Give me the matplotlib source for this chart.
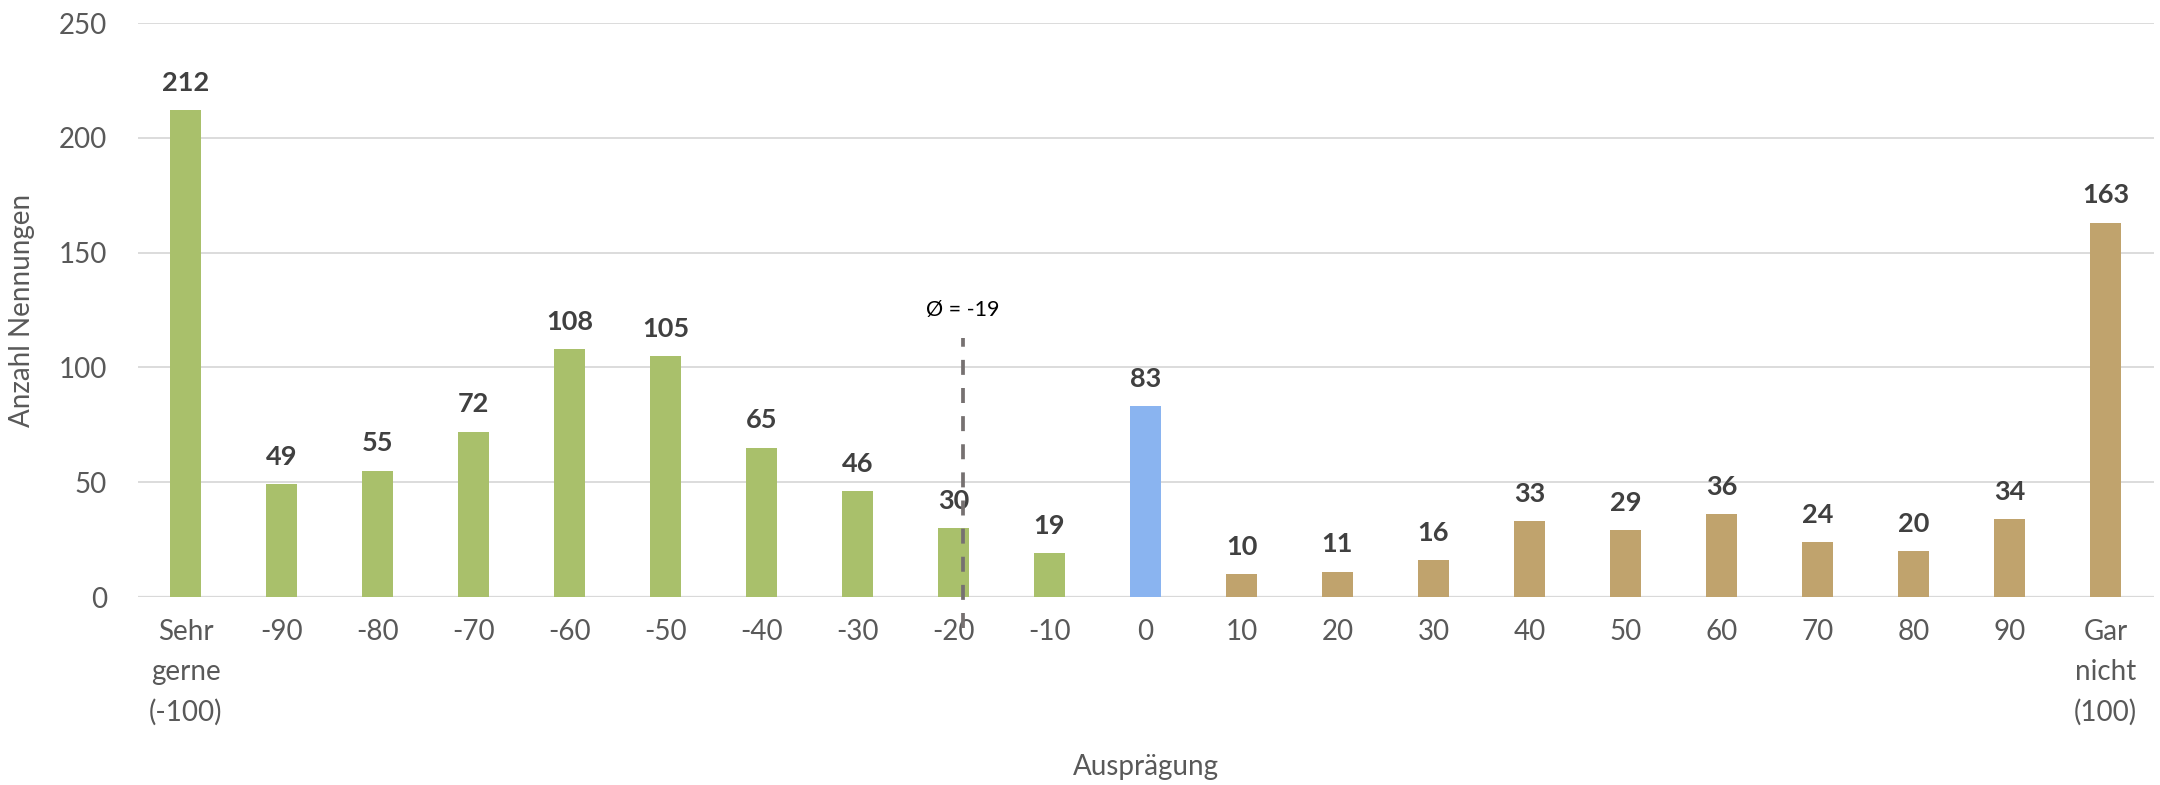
import matplotlib
matplotlib.use("Agg")
import matplotlib.pyplot as plt
import numpy as np

# ---- data ----
categories = ["Sehr\ngerne\n(-100)", "-90", "-80", "-70", "-60", "-50", "-40", "-30", "-20", "-10",
              "0", "10", "20", "30", "40", "50", "60", "70", "80", "90", "Gar\nnicht\n(100)"]
scale_values = [-100, -90, -80, -70, -60, -50, -40, -30, -20, -10,
                0, 10, 20, 30, 40, 50, 60, 70, 80, 90, 100]
counts = [212, 49, 55, 72, 108, 105, 65, 46, 30, 19,
          83, 10, 11, 16, 33, 29, 36, 24, 20, 34, 163]
y_ticks = [0, 50, 100, 150, 200, 250]
avg_label = "Ø = -19"

# ---- style ----
GREEN = "#A9C06B"
BLUE = "#8AB4F0"
TAN = "#C0A36D"
colors = [GREEN if v < 0 else (BLUE if v == 0 else TAN) for v in scale_values]

plt.rcParams['font.family'] = ['Lato', 'DejaVu Sans']

fig = plt.figure(figsize=(21.6, 7.85), dpi=100)
ax = fig.add_axes([137.5 / 2160, 1 - 597 / 785, 2016 / 2160, 574 / 785])

x = np.arange(len(categories))
bars = ax.bar(x, counts, width=0.32, color=colors, zorder=3)

for xi, c in zip(x, counts):
    ax.annotate(str(c), (xi, c), xytext=(0, 11), textcoords="offset points",
                ha="center", va="bottom", fontsize=19.5, fontweight="bold",
                color="#404040")

# average line
total = sum(counts)
mean = sum(v * c for v, c in zip(scale_values, counts)) / total
mean_pos = np.interp(mean, scale_values, x)
ax.plot([mean_pos, mean_pos], [-13.5, 113], color="#767171", lw=2.7,
        dashes=(4, 3.5), clip_on=False, zorder=4)
ax.text(mean_pos, 125, avg_label, ha="center", va="center", fontsize=15.5,
        color="black")

ax.set_xlim(-0.5, len(categories) - 0.5)
ax.set_ylim(0, 250)
ax.set_yticks(y_ticks)
ax.set_xticks(x)
ax.set_xticklabels(categories, linespacing=1.65)
ax.grid(axis="y", color="#D9D9D9", lw=1.3, zorder=0)
for s in ["top", "right", "left", "bottom"]:
    ax.spines[s].set_visible(False)
ax.axhline(0, color="#D9D9D9", lw=1.6, zorder=2)

ax.tick_params(axis="x", length=0, pad=16, labelsize=20, labelcolor="#595959")
ax.tick_params(axis="y", length=0, pad=22, labelsize=20, labelcolor="#595959")

ax.set_ylabel("Anzahl Nennungen", fontsize=20, color="#595959")
ax.yaxis.set_label_coords(-0.0508, 0.5)
ax.set_xlabel("Ausprägung", fontsize=20, color="#595959", va="center")
ax.xaxis.set_label_coords(0.5, -0.296)

fig.savefig("out.png", dpi=100)
